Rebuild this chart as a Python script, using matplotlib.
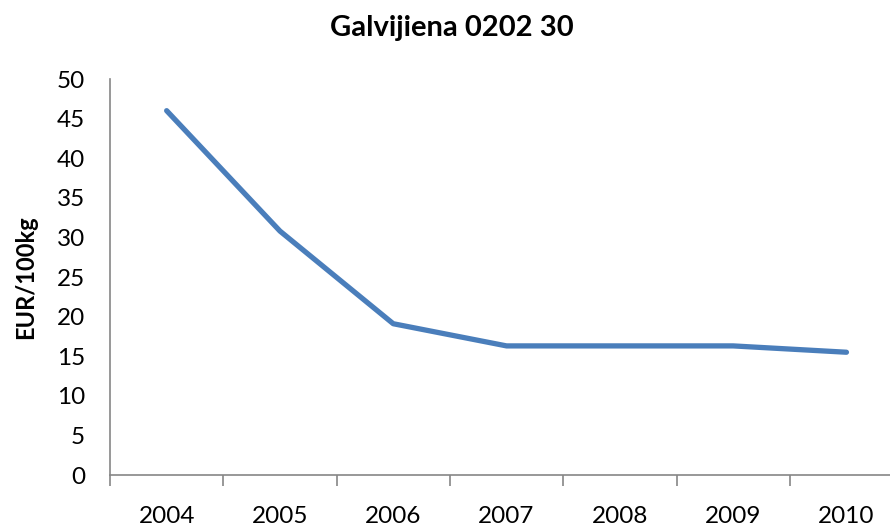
import matplotlib.pyplot as plt

years = ["2004", "2005", "2006", "2007", "2008", "2009", "2010"]
prices = [46.0, 30.8, 19.1, 16.3, 16.3, 16.3, 15.5]

plt.rcParams['font.family'] = ['Lato', 'DejaVu Sans']

fig = plt.figure(figsize=(8.9, 5.29), dpi=100)
ax = fig.add_axes([110 / 890, 1 - 475 / 529, 113.3 * 7 / 890, 396 / 529])

x = range(len(years))
ax.plot(x, prices, color="#4A7EBB", linewidth=3.8, solid_capstyle="round",
        solid_joinstyle="round")

ax.set_xlim(-0.5, len(years) - 0.5)
ax.set_ylim(0, 50)
ax.set_yticks(range(0, 51, 5))

# category labels between the tick marks, like Excel
ax.set_xticks([i - 0.5 for i in range(len(years) + 1)])
ax.set_xticklabels([])
ax.set_xticks(list(x), minor=True)
ax.set_xticklabels(years, minor=True, fontsize=17.5)
ax.tick_params(axis="x", which="minor", length=0, pad=22)
ax.tick_params(axis="x", which="major", length=8, width=1.2, color="#868686", direction="out")
ax.tick_params(axis="y", length=0, labelsize=17.5, pad=18)

for s in ["top", "right"]:
    ax.spines[s].set_visible(False)
for s in ["left", "bottom"]:
    ax.spines[s].set_color("#868686")
    ax.spines[s].set_linewidth(1.2)

ax.set_ylabel("EUR/100kg", fontsize=17, fontweight="bold", labelpad=14)
fig.text(452 / 890, 1 - 28 / 529, "Galvijiena 0202 30", fontsize=21, fontweight="bold",
         ha="center", va="center")

fig.savefig("out.png", dpi=100)
